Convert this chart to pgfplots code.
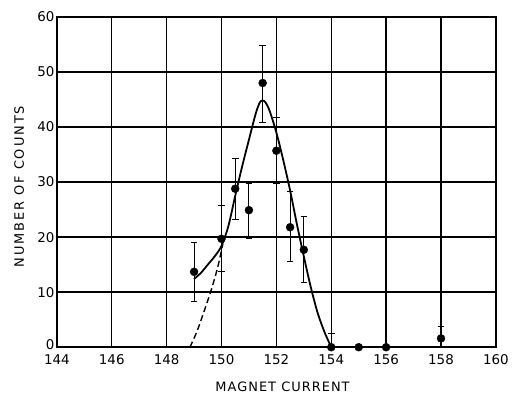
\documentclass[border=0pt]{standalone}
\usepackage{fontspec}
\setmainfont{DejaVu Sans}
\newfontfamily\xlabfont[LetterSpace=8]{DejaVu Sans}
\newfontfamily\ylabfont[LetterSpace=15]{DejaVu Sans}
\usepackage{pgfplots}
\pgfplotsset{compat=1.18}
\begin{document}
\begin{tikzpicture}[x=1bp,y=1bp]
\begin{axis}[
  scale only axis, width=440bp, height=331bp,
  xmin=144, xmax=160, ymin=0, ymax=60,
  xtick={144,146,...,160}, ytick={0,10,...,60},
  yticklabels={\raisebox{5bp}{0},10,20,30,40,50,60},
  grid=major, grid style={black, line width=1.5pt},
  axis line style={black, line width=1.5pt},
  tick style={draw=none},
  /pgf/number format/assume math mode=true,
  /pgf/number format/1000 sep={},
  ticklabel style={font=\fontsize{13.5}{13.5}\selectfont},
  xticklabel style={yshift=-3.5bp},
  yticklabel style={xshift=1bp},
  xlabel={\xlabfont MAGNET CURRENT}, ylabel={\ylabfont NUMBER OF COUNTS},
  label style={font=\fontsize{13}{13}\selectfont},
  xlabel style={at={(axis description cs:0.514,-0.121)}, anchor=center},
  ylabel style={at={(axis description cs:-0.086,0.486)}, anchor=center},
  clip=false,
]
\addplot[only marks, mark=*, mark size=4bp, black,
  error bars/.cd, y dir=both, y explicit,
  error bar style={black, line width=0.9pt},
  error mark options={rotate=90, mark size=3.3bp, black, line width=0.9pt}]
  table[x=x, y=y, y error plus=ep, y error minus=em] {
x y ep em
149 13.7 5.3 5.3
150 19.7 6.0 5.9
150.5 28.8 5.5 5.5
151 24.9 4.9 5.1
151.5 48 6.9 7.2
152 35.7 6.0 5.9
152.5 21.8 6.5 6.3
153 17.7 6.1 5.9
154 0 2.5 0
155 0 0 0
156 0 0 0
158 1.6 2.1 1.6
};
\addplot[black, line width=1.8pt, smooth, tension=0.5] coordinates {
(149,12.4) (149.25,13.5) (149.5,15) (149.75,16.5) (150,18.4) (150.25,22)
(150.5,27.5) (150.75,32.8) (151,37.7) (151.25,42.5) (151.4,44.5) (151.5,44.8)
(151.6,44.5) (151.75,43) (152,39) (152.25,34) (152.5,28.5) (152.75,22.3)
(153,16.5) (153.25,11) (153.5,6.3) (153.75,2.8) (154,0)
};
\addplot[black, line width=1.4pt, dash pattern=on 6bp off 3.5bp, smooth] coordinates {
(148.85,0) (149.1,2.8) (149.35,6.3) (149.6,10) (149.85,14.3) (150.05,18.8)
};
\end{axis}
\path (-57bp,-48bp) (455bp,348bp);
\end{tikzpicture}
\end{document}
